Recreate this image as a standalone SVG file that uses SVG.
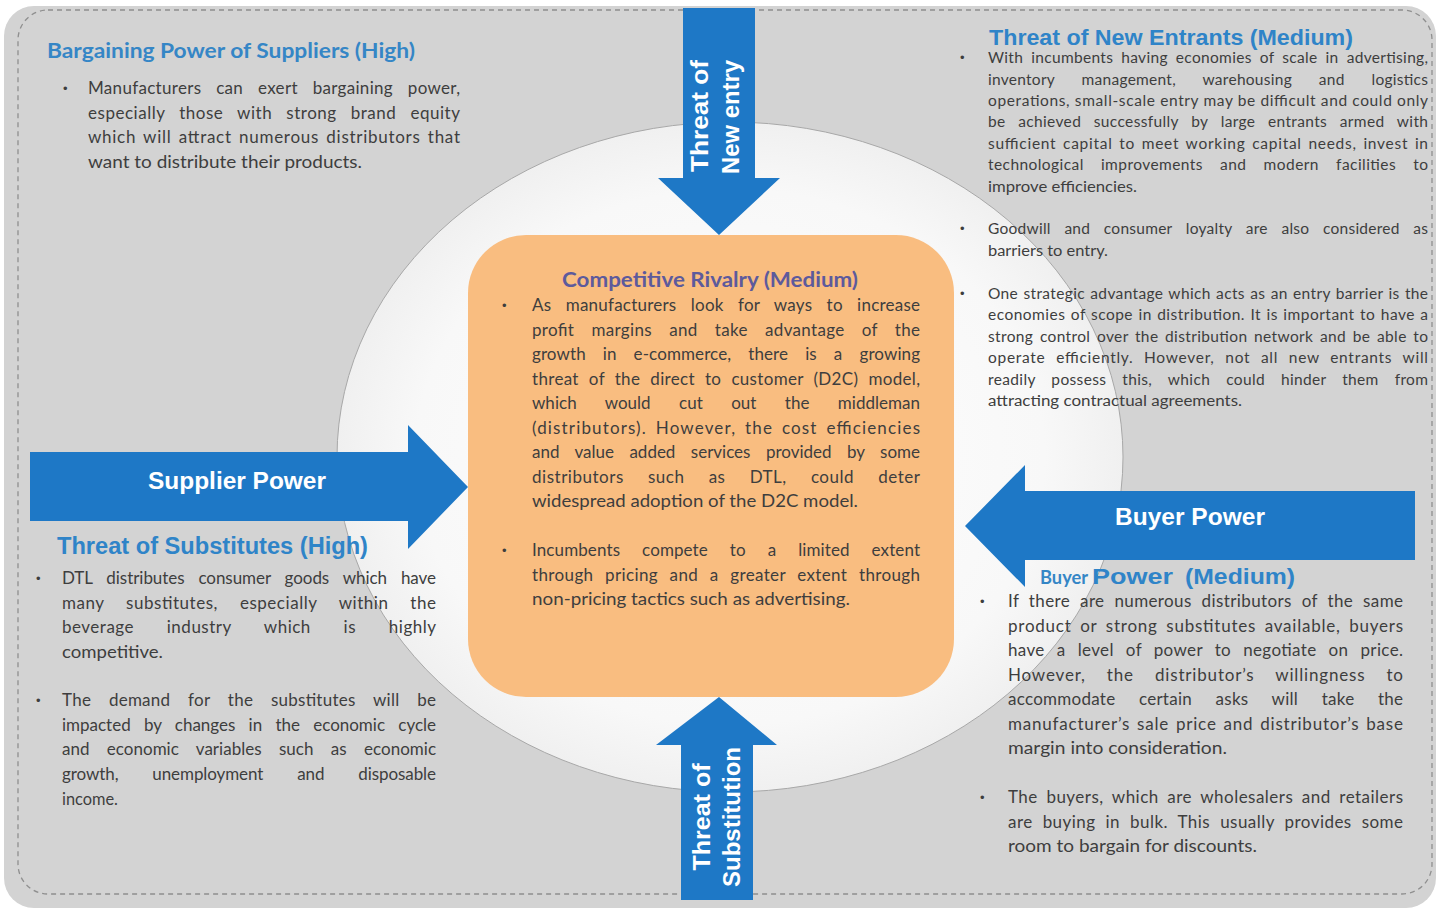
<svg xmlns="http://www.w3.org/2000/svg" width="1438" height="909" viewBox="0 0 1438 909">
  <style>
    .body { font-family: Lato, "Liberation Sans", sans-serif; font-size: 17px; fill: #3e3e3e; }
    .sm { font-size: 15.5px; }
    .blt { font-family: "Liberation Sans", sans-serif; font-size: 13px; fill: #3e3e3e; }
    .ttl-c { font-family: Lato, "Liberation Sans", sans-serif; font-weight: 700; fill: #3586c6; }
    .ttl-a { font-family: "Liberation Sans", Arial, sans-serif; font-weight: 700; fill: #2f84c8; }
    .arrow { fill: #1e78c6; }
    .lbl { font-family: "Liberation Sans", Arial, sans-serif; font-weight: 700; font-size: 23px; fill: #ffffff; text-anchor: middle; }
  </style>
  <defs>
    <radialGradient id="ellFill" cx="0.5" cy="0.5" r="0.5">
      <stop offset="0" stop-color="#ffffff"/>
      <stop offset="0.8" stop-color="#f8f8f8"/>
      <stop offset="1" stop-color="#f0f0f0"/>
    </radialGradient>
  </defs>

  <!-- background panel and halo -->
  <g id="panel">
    <rect x="4" y="6" width="1432" height="902" rx="30" fill="#d3d3d3"/>
    <rect x="18" y="10" width="1414" height="884" rx="30" fill="none" stroke="#8f8f8f" stroke-width="1.3" stroke-dasharray="5 4"/>
    <ellipse cx="730" cy="457" rx="393" ry="335" fill="url(#ellFill)" stroke="#a8a8a8" stroke-width="1"/>
  </g>

  <!-- central force: justified lines use word-spacing plus textLength -->
  <g id="rivalry">
    <rect x="468" y="235" width="486" height="462" rx="58" fill="#f9bd80"/>
    <text class="ttl-c" x="562" y="287" font-size="20" style="fill:#5d5a9c" textLength="296" lengthAdjust="spacingAndGlyphs">Competitive Rivalry (Medium)</text>
    <text class="blt" x="502" y="310">•</text>
    <text class="body" x="532" y="311" style="word-spacing:9.8px" textLength="388" lengthAdjust="spacing"><tspan>As</tspan> <tspan>manufacturers</tspan> <tspan>look</tspan> <tspan>for</tspan> <tspan>ways</tspan> <tspan>to</tspan> <tspan>increase</tspan></text>
    <text class="body" x="532" y="336" style="word-spacing:12.6px" textLength="388" lengthAdjust="spacing"><tspan>profit</tspan> <tspan>margins</tspan> <tspan>and</tspan> <tspan>take</tspan> <tspan>advantage</tspan> <tspan>of</tspan> <tspan>the</tspan></text>
    <text class="body" x="532" y="360" style="word-spacing:12.6px" textLength="388" lengthAdjust="spacing"><tspan>growth</tspan> <tspan>in</tspan> <tspan>e-commerce,</tspan> <tspan>there</tspan> <tspan>is</tspan> <tspan>a</tspan> <tspan>growing</tspan></text>
    <text class="body" x="532" y="385" style="word-spacing:5.4px" textLength="388" lengthAdjust="spacing"><tspan>threat</tspan> <tspan>of</tspan> <tspan>the</tspan> <tspan>direct</tspan> <tspan>to</tspan> <tspan>customer</tspan> <tspan>(D2C)</tspan> <tspan>model,</tspan></text>
    <text class="body" x="532" y="409" style="word-spacing:24px" textLength="388" lengthAdjust="spacing"><tspan>which</tspan> <tspan>would</tspan> <tspan>cut</tspan> <tspan>out</tspan> <tspan>the</tspan> <tspan>middleman</tspan></text>
    <text class="body" x="532" y="434" style="word-spacing:3.4px" textLength="388" lengthAdjust="spacing"><tspan>(distributors).</tspan> <tspan>However,</tspan> <tspan>the</tspan> <tspan>cost</tspan> <tspan>efficiencies</tspan></text>
    <text class="body" x="532" y="458" style="word-spacing:11.2px" textLength="388" lengthAdjust="spacing"><tspan>and</tspan> <tspan>value</tspan> <tspan>added</tspan> <tspan>services</tspan> <tspan>provided</tspan> <tspan>by</tspan> <tspan>some</tspan></text>
    <text class="body" x="532" y="483" style="word-spacing:19.3px" textLength="388" lengthAdjust="spacing"><tspan>distributors</tspan> <tspan>such</tspan> <tspan>as</tspan> <tspan>DTL,</tspan> <tspan>could</tspan> <tspan>deter</tspan></text>
    <text class="body" x="532" y="507" textLength="326" lengthAdjust="spacingAndGlyphs"><tspan>widespread</tspan> <tspan>adoption</tspan> <tspan>of</tspan> <tspan>the</tspan> <tspan>D2C</tspan> <tspan>model.</tspan></text>
    <text class="blt" x="502" y="555">•</text>
    <text class="body" x="532" y="556" style="word-spacing:17.5px" textLength="388" lengthAdjust="spacing"><tspan>Incumbents</tspan> <tspan>compete</tspan> <tspan>to</tspan> <tspan>a</tspan> <tspan>limited</tspan> <tspan>extent</tspan></text>
    <text class="body" x="532" y="581" style="word-spacing:6.9px" textLength="388" lengthAdjust="spacing"><tspan>through</tspan> <tspan>pricing</tspan> <tspan>and</tspan> <tspan>a</tspan> <tspan>greater</tspan> <tspan>extent</tspan> <tspan>through</tspan></text>
    <text class="body" x="532" y="605" textLength="318" lengthAdjust="spacingAndGlyphs"><tspan>non-pricing</tspan> <tspan>tactics</tspan> <tspan>such</tspan> <tspan>as</tspan> <tspan>advertising.</tspan></text>
  </g>

  <!-- force arrows -->
  <g id="connectors">
    <polygon class="arrow" points="683,8 755,8 755,178 780,178 719,235 658,178 683,178"/>
    <polygon class="arrow" points="719,697 777,745 753,745 753,900 681,900 681,745 656,745"/>
    <polygon class="arrow" points="30,452 408,452 408,425 468,487 408,549 408,521 30,521"/>
    <polygon class="arrow" points="1415,491 1025,491 1025,465 965,526 1025,587 1025,560 1415,560"/>
  </g>

  <g id="arrow-labels">
    <text class="lbl" transform="translate(708,116) rotate(-90)" textLength="112" lengthAdjust="spacingAndGlyphs">Threat of</text>
    <text class="lbl" transform="translate(739,117) rotate(-90)" textLength="114" lengthAdjust="spacingAndGlyphs">New entry</text>
    <text class="lbl" transform="translate(710,817) rotate(-90)" textLength="107" lengthAdjust="spacingAndGlyphs">Threat of</text>
    <text class="lbl" transform="translate(740,817) rotate(-90)" textLength="140" lengthAdjust="spacingAndGlyphs">Substitution</text>
    <text class="lbl" x="237" y="489" textLength="178" lengthAdjust="spacingAndGlyphs">Supplier Power</text>
    <text class="lbl" x="1190" y="525" textLength="150" lengthAdjust="spacingAndGlyphs">Buyer Power</text>
  </g>

  <!-- supplier power -->
  <g id="suppliers">
    <text class="ttl-c" x="47" y="58" font-size="21" textLength="368" lengthAdjust="spacingAndGlyphs">Bargaining Power of Suppliers (High)</text>
    <text class="blt" x="63" y="93">•</text>
    <text class="body" x="88" y="94" style="word-spacing:10.2px" textLength="372" lengthAdjust="spacing"><tspan>Manufacturers</tspan> <tspan>can</tspan> <tspan>exert</tspan> <tspan>bargaining</tspan> <tspan>power,</tspan></text>
    <text class="body" x="88" y="118.5" style="word-spacing:9.2px" textLength="372" lengthAdjust="spacing"><tspan>especially</tspan> <tspan>those</tspan> <tspan>with</tspan> <tspan>strong</tspan> <tspan>brand</tspan> <tspan>equity</tspan></text>
    <text class="body" x="88" y="143" style="word-spacing:2.3px" textLength="372" lengthAdjust="spacing"><tspan>which</tspan> <tspan>will</tspan> <tspan>attract</tspan> <tspan>numerous</tspan> <tspan>distributors</tspan> <tspan>that</tspan></text>
    <text class="body" x="88" y="167.5" textLength="274" lengthAdjust="spacingAndGlyphs"><tspan>want</tspan> <tspan>to</tspan> <tspan>distribute</tspan> <tspan>their</tspan> <tspan>products.</tspan></text>
  </g>

  <!-- new entrants -->
  <g id="new-entrants">
    <text class="ttl-a" x="989" y="45" font-size="22" textLength="364" lengthAdjust="spacingAndGlyphs">Threat of New Entrants (Medium)</text>
    <text class="blt" x="960" y="62">•</text>
    <text class="body sm" x="988" y="63" style="word-spacing:3.8px" textLength="440" lengthAdjust="spacing"><tspan>With</tspan> <tspan>incumbents</tspan> <tspan>having</tspan> <tspan>economies</tspan> <tspan>of</tspan> <tspan>scale</tspan> <tspan>in</tspan> <tspan>advertising,</tspan></text>
    <text class="body sm" x="988" y="85" style="word-spacing:22.6px" textLength="440" lengthAdjust="spacing"><tspan>inventory</tspan> <tspan>management,</tspan> <tspan>warehousing</tspan> <tspan>and</tspan> <tspan>logistics</tspan></text>
    <text class="body sm" x="988" y="106" textLength="440" lengthAdjust="spacing"><tspan>operations,</tspan> <tspan>small-scale</tspan> <tspan>entry</tspan> <tspan>may</tspan> <tspan>be</tspan> <tspan>difficult</tspan> <tspan>and</tspan> <tspan>could</tspan> <tspan>only</tspan></text>
    <text class="body sm" x="988" y="127" style="word-spacing:8.3px" textLength="440" lengthAdjust="spacing"><tspan>be</tspan> <tspan>achieved</tspan> <tspan>successfully</tspan> <tspan>by</tspan> <tspan>large</tspan> <tspan>entrants</tspan> <tspan>armed</tspan> <tspan>with</tspan></text>
    <text class="body sm" x="988" y="149" style="word-spacing:2px" textLength="440" lengthAdjust="spacing"><tspan>sufficient</tspan> <tspan>capital</tspan> <tspan>to</tspan> <tspan>meet</tspan> <tspan>working</tspan> <tspan>capital</tspan> <tspan>needs,</tspan> <tspan>invest</tspan> <tspan>in</tspan></text>
    <text class="body sm" x="988" y="170" style="word-spacing:12.8px" textLength="440" lengthAdjust="spacing"><tspan>technological</tspan> <tspan>improvements</tspan> <tspan>and</tspan> <tspan>modern</tspan> <tspan>facilities</tspan> <tspan>to</tspan></text>
    <text class="body sm" x="988" y="192" textLength="149" lengthAdjust="spacingAndGlyphs"><tspan>improve</tspan> <tspan>efficiencies.</tspan></text>
    <text class="blt" x="960" y="233">•</text>
    <text class="body sm" x="988" y="234" style="word-spacing:9.4px" textLength="440" lengthAdjust="spacing"><tspan>Goodwill</tspan> <tspan>and</tspan> <tspan>consumer</tspan> <tspan>loyalty</tspan> <tspan>are</tspan> <tspan>also</tspan> <tspan>considered</tspan> <tspan>as</tspan></text>
    <text class="body sm" x="988" y="256" textLength="120" lengthAdjust="spacingAndGlyphs"><tspan>barriers</tspan> <tspan>to</tspan> <tspan>entry.</tspan></text>
    <text class="blt" x="960" y="298">•</text>
    <text class="body sm" x="988" y="299" style="word-spacing:1px" textLength="440" lengthAdjust="spacing"><tspan>One</tspan> <tspan>strategic</tspan> <tspan>advantage</tspan> <tspan>which</tspan> <tspan>acts</tspan> <tspan>as</tspan> <tspan>an</tspan> <tspan>entry</tspan> <tspan>barrier</tspan> <tspan>is</tspan> <tspan>the</tspan></text>
    <text class="body sm" x="988" y="320" style="word-spacing:1px" textLength="440" lengthAdjust="spacing"><tspan>economies</tspan> <tspan>of</tspan> <tspan>scope</tspan> <tspan>in</tspan> <tspan>distribution.</tspan> <tspan>It</tspan> <tspan>is</tspan> <tspan>important</tspan> <tspan>to</tspan> <tspan>have</tspan> <tspan>a</tspan></text>
    <text class="body sm" x="988" y="342" style="word-spacing:2.3px" textLength="440" lengthAdjust="spacing"><tspan>strong</tspan> <tspan>control</tspan> <tspan>over</tspan> <tspan>the</tspan> <tspan>distribution</tspan> <tspan>network</tspan> <tspan>and</tspan> <tspan>be</tspan> <tspan>able</tspan> <tspan>to</tspan></text>
    <text class="body sm" x="988" y="363" style="word-spacing:6px" textLength="440" lengthAdjust="spacing"><tspan>operate</tspan> <tspan>efficiently.</tspan> <tspan>However,</tspan> <tspan>not</tspan> <tspan>all</tspan> <tspan>new</tspan> <tspan>entrants</tspan> <tspan>will</tspan></text>
    <text class="body sm" x="988" y="385" style="word-spacing:11.6px" textLength="440" lengthAdjust="spacing"><tspan>readily</tspan> <tspan>possess</tspan> <tspan>this,</tspan> <tspan>which</tspan> <tspan>could</tspan> <tspan>hinder</tspan> <tspan>them</tspan> <tspan>from</tspan></text>
    <text class="body sm" x="988" y="406" textLength="254" lengthAdjust="spacingAndGlyphs"><tspan>attracting</tspan> <tspan>contractual</tspan> <tspan>agreements.</tspan></text>
  </g>

  <!-- substitutes -->
  <g id="substitutes">
    <text class="ttl-a" x="57" y="554" font-size="23" textLength="311" lengthAdjust="spacingAndGlyphs">Threat of Substitutes (High)</text>
    <text class="blt" x="36" y="583">•</text>
    <text class="body" x="62" y="584" style="word-spacing:9.6px" textLength="374" lengthAdjust="spacing"><tspan>DTL</tspan> <tspan>distributes</tspan> <tspan>consumer</tspan> <tspan>goods</tspan> <tspan>which</tspan> <tspan>have</tspan></text>
    <text class="body" x="62" y="609" style="word-spacing:17px" textLength="374" lengthAdjust="spacing"><tspan>many</tspan> <tspan>substitutes,</tspan> <tspan>especially</tspan> <tspan>within</tspan> <tspan>the</tspan></text>
    <text class="body" x="62" y="633" style="word-spacing:27.9px" textLength="374" lengthAdjust="spacing"><tspan>beverage</tspan> <tspan>industry</tspan> <tspan>which</tspan> <tspan>is</tspan> <tspan>highly</tspan></text>
    <text class="body" x="62" y="658" textLength="101" lengthAdjust="spacingAndGlyphs">competitive.</text>
    <text class="blt" x="36" y="705">•</text>
    <text class="body" x="62" y="706" style="word-spacing:13.2px" textLength="374" lengthAdjust="spacing"><tspan>The</tspan> <tspan>demand</tspan> <tspan>for</tspan> <tspan>the</tspan> <tspan>substitutes</tspan> <tspan>will</tspan> <tspan>be</tspan></text>
    <text class="body" x="62" y="731" style="word-spacing:8.9px" textLength="374" lengthAdjust="spacing"><tspan>impacted</tspan> <tspan>by</tspan> <tspan>changes</tspan> <tspan>in</tspan> <tspan>the</tspan> <tspan>economic</tspan> <tspan>cycle</tspan></text>
    <text class="body" x="62" y="755" style="word-spacing:13px" textLength="374" lengthAdjust="spacing"><tspan>and</tspan> <tspan>economic</tspan> <tspan>variables</tspan> <tspan>such</tspan> <tspan>as</tspan> <tspan>economic</tspan></text>
    <text class="body" x="62" y="780" style="word-spacing:29.6px" textLength="374" lengthAdjust="spacing"><tspan>growth,</tspan> <tspan>unemployment</tspan> <tspan>and</tspan> <tspan>disposable</tspan></text>
    <text class="body" x="62" y="805" textLength="56" lengthAdjust="spacingAndGlyphs">income.</text>
  </g>

  <!-- buyer power -->
  <g id="buyers">
    <text class="ttl-c" x="1040" y="584" font-size="19" textLength="48" lengthAdjust="spacingAndGlyphs">Buyer</text>
    <text class="ttl-a" x="1092" y="584" font-size="22" textLength="81" lengthAdjust="spacingAndGlyphs">Power</text>
    <text class="ttl-a" x="1185" y="584" font-size="22" textLength="110" lengthAdjust="spacingAndGlyphs">(Medium)</text>
    <text class="blt" x="980" y="606">•</text>
    <text class="body" x="1008" y="607" style="word-spacing:5.2px" textLength="395" lengthAdjust="spacing"><tspan>If</tspan> <tspan>there</tspan> <tspan>are</tspan> <tspan>numerous</tspan> <tspan>distributors</tspan> <tspan>of</tspan> <tspan>the</tspan> <tspan>same</tspan></text>
    <text class="body" x="1008" y="632" style="word-spacing:3.5px" textLength="395" lengthAdjust="spacing"><tspan>product</tspan> <tspan>or</tspan> <tspan>strong</tspan> <tspan>substitutes</tspan> <tspan>available,</tspan> <tspan>buyers</tspan></text>
    <text class="body" x="1008" y="656" style="word-spacing:7.4px" textLength="395" lengthAdjust="spacing"><tspan>have</tspan> <tspan>a</tspan> <tspan>level</tspan> <tspan>of</tspan> <tspan>power</tspan> <tspan>to</tspan> <tspan>negotiate</tspan> <tspan>on</tspan> <tspan>price.</tspan></text>
    <text class="body" x="1008" y="681" style="word-spacing:15.9px" textLength="395" lengthAdjust="spacing"><tspan>However,</tspan> <tspan>the</tspan> <tspan>distributor’s</tspan> <tspan>willingness</tspan> <tspan>to</tspan></text>
    <text class="body" x="1008" y="705" style="word-spacing:18.9px" textLength="395" lengthAdjust="spacing"><tspan>accommodate</tspan> <tspan>certain</tspan> <tspan>asks</tspan> <tspan>will</tspan> <tspan>take</tspan> <tspan>the</tspan></text>
    <text class="body" x="1008" y="730" style="word-spacing:1.7px" textLength="395" lengthAdjust="spacing"><tspan>manufacturer’s</tspan> <tspan>sale</tspan> <tspan>price</tspan> <tspan>and</tspan> <tspan>distributor’s</tspan> <tspan>base</tspan></text>
    <text class="body" x="1008" y="754" textLength="219" lengthAdjust="spacingAndGlyphs"><tspan>margin</tspan> <tspan>into</tspan> <tspan>consideration.</tspan></text>
    <text class="blt" x="980" y="802">•</text>
    <text class="body" x="1008" y="803" style="word-spacing:3.8px" textLength="395" lengthAdjust="spacing"><tspan>The</tspan> <tspan>buyers,</tspan> <tspan>which</tspan> <tspan>are</tspan> <tspan>wholesalers</tspan> <tspan>and</tspan> <tspan>retailers</tspan></text>
    <text class="body" x="1008" y="828" style="word-spacing:5.2px" textLength="395" lengthAdjust="spacing"><tspan>are</tspan> <tspan>buying</tspan> <tspan>in</tspan> <tspan>bulk.</tspan> <tspan>This</tspan> <tspan>usually</tspan> <tspan>provides</tspan> <tspan>some</tspan></text>
    <text class="body" x="1008" y="852" textLength="249" lengthAdjust="spacingAndGlyphs"><tspan>room</tspan> <tspan>to</tspan> <tspan>bargain</tspan> <tspan>for</tspan> <tspan>discounts.</tspan></text>
  </g>
</svg>
